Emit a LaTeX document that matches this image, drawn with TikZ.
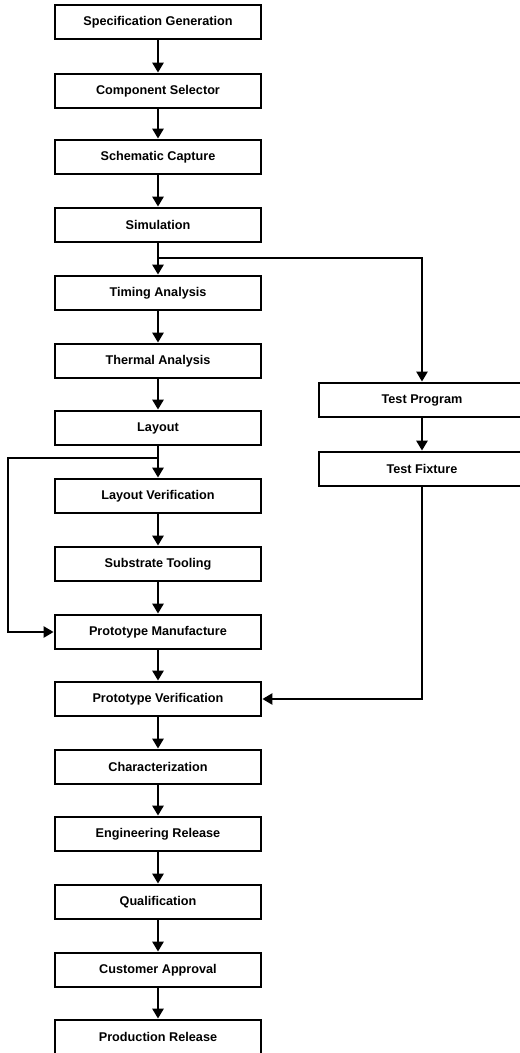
\documentclass[tikz,border=0pt]{standalone}
\usepackage{fontspec}
\setmainfont{Liberation Sans}
\usetikzlibrary{arrows.meta}

\begin{document}
\begin{tikzpicture}[
  x=0.75pt, y=-0.75pt,
  stage/.style={
    draw=black, fill=white, line width=2.2pt,
    minimum width=154.5pt, minimum height=25.5pt,
    inner sep=1pt, font=\fontsize{9.5}{11}\selectfont\bfseries, align=center
  },
  flow/.style={-{Triangle[length=7.5pt,width=8.5pt]}, line width=1.6pt, draw=black},
  sideflow/.style={flow, line width=1.3pt}
]
\useasboundingbox (0,0) rectangle (520,1053);

% Main design flow, top to bottom.
\node[stage] (spec)      at (158,  22) {Specification Generation};
\node[stage] (compsel)   at (158,  91) {Component Selector};
\node[stage] (schem)     at (158, 157) {Schematic Capture};
\node[stage] (sim)       at (158, 225) {Simulation};
\node[stage] (timing)    at (158, 293) {Timing Analysis};
\node[stage] (thermal)   at (158, 361) {Thermal Analysis};
\node[stage] (layout)    at (158, 428) {Layout};
\node[stage] (layver)    at (158, 496) {Layout Verification};
\node[stage] (substrate) at (158, 564) {Substrate Tooling};
\node[stage] (protoman)  at (158, 632) {Prototype Manufacture};
\node[stage] (protover)  at (158, 699) {Prototype Verification};
\node[stage] (charz)     at (158, 767) {Characterization};
\node[stage] (engrel)    at (158, 834) {Engineering Release};
\node[stage] (qual)      at (158, 902) {Qualification};
\node[stage] (custapp)   at (158, 970) {Customer Approval};
\node[stage] (prodrel)   at (158,1037) {Production Release};

% Test branch on the right.
\node[stage] (testprog)  at (422, 400) {Test Program};
\node[stage] (testfix)   at (422, 469) {Test Fixture};

% Straight steps down the main column.
\draw[flow] (spec.south)      -- (compsel.north);
\draw[flow] (compsel.south)   -- (schem.north);
\draw[flow] (schem.south)     -- (sim.north);
\draw[flow] (sim.south)       -- (timing.north);
\draw[flow] (timing.south)    -- (thermal.north);
\draw[flow] (thermal.south)   -- (layout.north);
\draw[flow] (layout.south)    -- (layver.north);
\draw[flow] (layver.south)    -- (substrate.north);
\draw[flow] (substrate.south) -- (protoman.north);
\draw[flow] (protoman.south)  -- (protover.north);
\draw[flow] (protover.south)  -- (charz.north);
\draw[flow] (charz.south)     -- (engrel.north);
\draw[flow] (engrel.south)    -- (qual.north);
\draw[flow] (qual.south)      -- (custapp.north);
\draw[flow] (custapp.south)   -- (prodrel.north);
\draw[flow] (testprog.south)  -- (testfix.north);

% Simulation also feeds the test program.
\coordinate (simsplit) at (158,258);
\draw[sideflow] (simsplit) -| (testprog.north);

% Layout can go straight to prototype manufacture.
\coordinate (laysplit) at (158,458);
\coordinate (leftrail) at (8,458);
\draw[sideflow] (laysplit) -- (leftrail) |- (protoman.west);

% The fixture is needed for prototype verification.
\draw[sideflow] (testfix.south) |- (protover.east);

\end{tikzpicture}
\end{document}
